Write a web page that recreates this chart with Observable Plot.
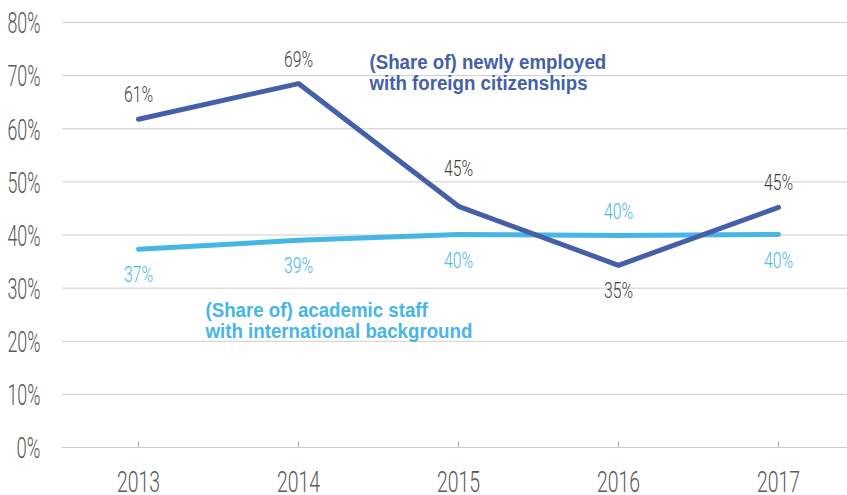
<!DOCTYPE html>
<html>
<head>
<meta charset="utf-8">
<script src="https://cdn.jsdelivr.net/npm/d3@7"></script>
<script src="https://cdn.jsdelivr.net/npm/@observablehq/plot@0.6"></script>
<style>
  html, body { margin: 0; padding: 0; background: #ffffff; }
  svg { display: block; }
</style>
</head>
<body>
<script>
// ---- Data ----
const years = [2013, 2014, 2015, 2016, 2017];
const newlyEmployed = [61.8, 68.5, 45.4, 34.3, 45.2];
const academicStaff = [37.3, 39.0, 40.1, 39.9, 40.1];
const newlyLabels = ["61%", "69%", "45%", "35%", "45%"];
const academicLabels = ["37%", "39%", "40%", "40%", "40%"];
const newlyLabelPos = ["above", "above", "high", "below", "above"];
const academicLabelPos = ["below", "below", "below", "above", "below"];
const yTicks = [0, 10, 20, 30, 40, 50, 60, 70, 80];
const yTickLabels = ["0%", "10%", "20%", "30%", "40%", "50%", "60%", "70%", "80%"];
const seriesNames = [
  "(Share of) newly employed\nwith foreign citizenships",
  "(Share of) academic staff\nwith international background"
];

// ---- Styles ----
const darkBlue = "#4560a9";
const lightBlue = "#46b6e7";
const axisGray = "#595959";
const labelGray = "#404040";
const gridGray = "#cccccc";
const thinFont = "Roboto, Liberation Sans, Arial, sans-serif";
const boldFont = "Liberation Sans, Arial, sans-serif";
const labelDy = {above: -24, high: -37, below: 26};

const newlyData = years.map((year, i) => ({year, value: newlyEmployed[i], label: newlyLabels[i], pos: newlyLabelPos[i]}));
const academicData = years.map((year, i) => ({year, value: academicStaff[i], label: academicLabels[i], pos: academicLabelPos[i]}));

function labelMarks(data, fill) {
  return Object.keys(labelDy).map(pos =>
    Plot.text(data, {
      filter: d => d.pos === pos,
      x: "year", y: "value", text: "label",
      dy: labelDy[pos], fill, fontSize: 22, fontFamily: thinFont, fontWeight: 300
    })
  );
}

const plot = Plot.plot({
  width: 847,
  height: 495,
  marginTop: 22,
  marginBottom: 48,
  marginLeft: 62,
  marginRight: 0,
  style: {fontFamily: boldFont, background: "#ffffff"},
  x: {type: "point", domain: years, range: [138, 778], padding: 0, label: null},
  y: {domain: [0, 80], label: null},
  marks: [
    Plot.ruleY(yTicks, {y: d => d, stroke: gridGray, strokeWidth: 1}),
    Plot.tickX(years, {x: d => d, stroke: "#b0b0b0", strokeWidth: 1, insetTop: 419}),
    Plot.axisY({
      ticks: yTicks,
      tickFormat: d => yTickLabels[yTicks.indexOf(d)],
      tickSize: 0, tickPadding: 22, dy: 1.5,
      fontSize: 29, fontFamily: thinFont, fontWeight: 300, fill: axisGray, label: null
    }),
    Plot.axisX({
      ticks: years,
      tickFormat: d => `${d}`,
      tickSize: 0, tickPadding: 23,
      fontSize: 30, fontFamily: thinFont, fontWeight: 300, fill: axisGray, label: null
    }),
    Plot.line(academicData, {x: "year", y: "value", stroke: lightBlue, strokeWidth: 5, strokeLinecap: "round", strokeLinejoin: "round"}),
    Plot.line(newlyData, {x: "year", y: "value", stroke: darkBlue, strokeWidth: 5, strokeLinecap: "round", strokeLinejoin: "round"}),
    ...labelMarks(newlyData, labelGray),
    ...labelMarks(academicData, lightBlue),
    Plot.text([seriesNames[0]], {
      text: d => d, frameAnchor: "top-left", dx: 307, dy: 32,
      textAnchor: "start", lineAnchor: "top", lineHeight: 1.0,
      fill: darkBlue, fontSize: 21, fontWeight: "bold"
    }),
    Plot.text([seriesNames[1]], {
      text: d => d, frameAnchor: "top-left", dx: 143, dy: 280,
      textAnchor: "start", lineAnchor: "top", lineHeight: 1.0,
      fill: lightBlue, fontSize: 21, fontWeight: "bold"
    })
  ]
});

document.body.append(plot);

// Condense glyphs horizontally to mimic the narrow typeface of the original.
// Target widths are taken relative to Arial-metric (Liberation Sans) widths.
const ctx = document.createElement("canvas").getContext("2d");
plot.querySelectorAll("text").forEach(t => {
  const cs = getComputedStyle(t);
  const size = parseFloat(cs.fontSize);
  const bold = parseInt(cs.fontWeight) >= 600;
  const f = bold ? 0.89 : size >= 30 ? 0.645 : size >= 28 ? 0.57 : 0.66;
  ctx.font = `${bold ? "bold" : "normal"} ${size}px "Liberation Sans"`;
  const spans = t.querySelectorAll("tspan");
  const els = spans.length ? [...spans] : [t];
  els.forEach(e => {
    const w = ctx.measureText(e.textContent).width;
    if (w > 0) {
      e.setAttribute("textLength", (w * f).toFixed(2));
      e.setAttribute("lengthAdjust", "spacingAndGlyphs");
    }
  });
});
</script>
</body>
</html>
